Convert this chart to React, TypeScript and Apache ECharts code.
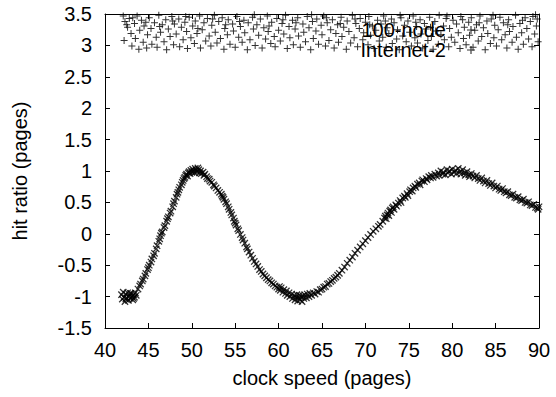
import React, { useEffect, useRef } from "react";
import * as echarts from "echarts";

const xTicks = { min: 40, max: 90, interval: 5 };
const yTicks = { min: -1.5, max: 3.5, interval: 0.5 };
const seriesNames = ["100-node", "Internet-2"];
const xLabel = "clock speed (pages)";
const yLabel = "hit ratio (pages)";

const node100: number[][] = [
  [42.1,3.47],[42.3,3.38],[42.2,3.08],[42.6,3.29],[42.8,3.43],[43.0,3.19],[43.1,2.99],[43.4,3.35],[43.5,3.11],[43.7,3.47],
  [43.9,2.94],[44.0,3.24],[44.2,3.40],[44.4,3.05],[44.5,3.31],[44.8,2.96],[44.9,3.17],[45.1,3.44],[45.3,3.27],[45.4,3.02],
  [45.7,3.36],[45.9,3.13],[46.0,2.97],[46.2,3.48],[46.4,3.21],[46.6,3.33],[46.8,3.06],[47.0,3.41],[47.1,2.93],[47.3,3.26],
  [47.5,3.14],[47.7,3.46],[47.9,3.01],[48.0,3.34],[48.2,3.18],[48.5,3.42],[48.6,2.98],[48.8,3.29],[49.0,3.09],[49.2,3.37],
  [49.4,3.22],[49.5,2.95],[49.7,3.45],[49.9,3.12],[50.1,3.31],[50.3,3.03],[50.4,3.39],[50.6,3.19],[50.9,3.47],[51.0,2.96],
  [51.2,3.25],[51.4,3.36],[51.6,3.07],[51.8,3.43],[52.0,3.15],[52.2,2.99],[52.3,3.32],[52.6,3.48],[52.7,3.21],[52.9,3.04],
  [53.1,3.38],[53.3,3.11],[53.5,3.44],[53.7,2.94],[53.8,3.27],[54.1,3.17],[54.2,3.41],[54.4,3.02],[54.7,3.34],[54.8,3.23],
  [55.0,2.97],[55.2,3.46],[55.4,3.13],[55.6,3.30],[55.8,3.05],[56.0,3.40],[56.1,3.20],[56.4,2.93],[56.5,3.36],[56.7,3.09],
  [57.0,3.45],[57.1,3.26],[57.3,3.00],[57.5,3.33],[57.7,3.16],[57.9,3.42],[58.1,2.96],[58.3,3.28],[58.5,3.10],[58.7,3.47],
  [58.8,3.22],[59.1,3.03],[59.2,3.37],[59.5,3.14],[59.6,2.98],[59.8,3.43],[60.0,3.24],[60.2,3.07],[60.4,3.35],[60.6,3.18],
  [60.8,3.48],[61.0,2.95],[61.2,3.30],[61.3,3.12],[61.6,3.40],[61.7,3.01],[61.9,3.26],[62.2,3.44],[62.3,3.15],[62.5,2.97],
  [62.8,3.34],[62.9,3.21],[63.1,3.06],[63.3,3.46],[63.5,3.28],[63.7,2.93],[63.9,3.38],[64.0,3.11],[64.3,3.23],[64.4,3.42],
  [64.6,3.02],[64.9,3.32],[65.0,3.17],[65.2,3.47],[65.4,2.99],[65.6,3.36],[65.8,3.08],[66.0,3.25],[66.2,3.41],[66.4,2.96],
  [66.6,3.19],[66.8,3.33],[66.9,3.05],[67.2,3.45],[67.3,3.14],[67.5,3.29],[67.8,2.94],[67.9,3.39],[68.1,3.22],[68.3,3.04],
  [68.5,3.48],[68.7,3.12],[68.9,3.35],[69.1,2.98],[69.3,3.27],[69.4,3.43],[69.7,3.09],[69.8,3.20],[70.0,3.37],[70.3,3.01],
  [70.4,3.46],[70.6,3.16],[70.8,3.31],[71.0,2.95],[71.2,3.24],[71.4,3.40],[71.6,3.07],[71.8,3.34],[72.0,3.13],[72.1,3.47],
  [72.4,2.97],[72.5,3.28],[72.7,3.19],[73.0,3.42],[73.1,3.03],[73.3,3.36],[73.6,3.10],[73.7,3.25],[73.9,2.93],[74.1,3.44],
  [74.3,3.15],[74.5,3.32],[74.7,3.06],[74.9,3.39],[75.1,3.21],[75.3,2.99],[75.5,3.47],[75.7,3.12],[75.9,3.30],[76.0,3.04],
  [76.3,3.41],[76.4,3.18],[76.6,2.96],[76.8,3.35],[77.0,3.26],[77.2,3.08],[77.4,3.45],[77.6,3.14],[77.8,2.94],[78.0,3.38],
  [78.1,3.23],[78.4,3.02],[78.5,3.48],[78.7,3.17],[79.0,3.31],[79.1,3.09],[79.3,3.43],[79.6,2.98],[79.7,3.27],[79.9,3.13],
  [80.1,3.40],[80.3,3.05],[80.5,3.34],[80.7,3.20],[80.9,2.95],[81.0,3.46],[81.3,3.11],[81.4,3.29],[81.6,3.01],[81.9,3.37],
  [82.0,3.16],[82.2,3.44],[82.4,2.97],[82.6,3.24],[82.8,3.33],[83.0,3.07],[83.2,3.47],[83.4,3.14],[83.6,3.28],[83.8,2.93],
  [84.0,3.39],[84.1,3.19],[84.4,3.03],[84.5,3.42],[84.8,3.12],[84.9,3.32],[85.1,2.99],[85.3,3.25],[85.5,3.45],[85.7,3.09],
  [85.9,3.36],[86.1,3.17],[86.3,2.96],[86.5,3.41],[86.6,3.22],[86.9,3.05],[87.0,3.30],[87.3,3.48],[87.4,3.13],[87.6,2.94],
  [87.8,3.35],[88.0,3.20],[88.2,3.02],[88.4,3.44],[88.6,3.27],[88.8,3.10],[89.0,3.38],[89.2,2.98],[89.3,3.46],[89.5,3.18],
  [89.7,3.31],[89.9,3.06],[89.8,3.42],
  [42.5,3.33],[43.2,3.44],[44.7,3.37],[46.3,3.30],[47.8,3.39],[49.3,3.46],[50.7,3.27],[52.4,3.42],[53.9,3.33],[55.5,3.38],
  [57.2,3.49],[58.9,3.31],[60.5,3.41],[62.0,3.36],[63.8,3.49],[65.5,3.44],[67.1,3.35],[68.8,3.42],[70.5,3.33],[72.3,3.39],
  [74.0,3.48],[75.8,3.37],[77.5,3.29],[79.4,3.47],[81.2,3.41],[83.1,3.36],[84.7,3.48],[86.4,3.33],[88.1,3.40],[89.6,3.49]
];

const internet2: number[][] = [
  [41.9,-0.97],[42.0,-1.04],[42.1,-0.93],[42.2,-1.01],[42.3,-1.08],[42.4,-0.96],[42.5,-1.02],[42.6,-0.94],[42.7,-1.06],[42.8,-0.99],
  [42.9,-1.03],[43.0,-0.95],[43.1,-1.00],[43.2,-1.05],[43.3,-0.97],[43.4,-1.01],[43.5,-0.94],[43.6,-0.98],[42.4,-1.04],[42.9,-0.95],
  [43.3,-1.03],
  [43.8,-0.88],[44.0,-0.83],[44.1,-0.80],[44.3,-0.75],[44.4,-0.72],[44.6,-0.67],[44.7,-0.63],[44.9,-0.57],[45.0,-0.54],[45.1,-0.50],
  [45.3,-0.45],[45.4,-0.40],[45.6,-0.35],[45.7,-0.31],[45.9,-0.24],[46.0,-0.19],[46.2,-0.12],[46.3,-0.08],[46.4,-0.03],[46.5,0.01],
  [46.6,0.03],[46.8,0.10],[46.9,0.13],[47.1,0.20],[47.2,0.24],[47.3,0.27],[47.5,0.33],[47.6,0.36],[47.8,0.43],[47.9,0.48],
  [48.0,0.52],[48.2,0.58],[48.3,0.63],[48.4,0.66],[48.5,0.70],[48.6,0.74],[48.8,0.78],[48.9,0.82],[49.0,0.85],[49.1,0.88],
  [49.2,0.90],[49.3,0.93],[49.4,0.95],[49.5,0.92],[49.6,0.97],[49.7,0.99],[49.8,0.96],[49.9,1.01],[50.0,0.98],[50.1,1.03],
  [50.2,1.00],[50.3,0.97],[50.4,1.04],[50.5,1.01],[50.6,0.99],[50.7,1.05],[50.8,1.02],[50.9,0.97],[51.0,1.00],[51.1,0.96],
  [51.3,0.98],[51.4,0.93],[51.5,0.95],[51.7,0.91],[51.8,0.88],[52.0,0.87],[52.1,0.84],[52.3,0.82],[52.5,0.78],[52.6,0.76],
  [52.8,0.73],[53.0,0.69],[53.2,0.66],[53.4,0.63],[53.5,0.60],[53.6,0.58],[53.7,0.55],[53.9,0.51],[54.0,0.48],[54.2,0.43],
  [54.3,0.39],[54.5,0.34],[54.6,0.30],[54.8,0.25],[54.9,0.20],[55.0,0.17],[55.1,0.14],[55.3,0.08],[55.4,0.05],[55.6,-0.01],
  [55.8,-0.06],[55.9,-0.10],[56.1,-0.15],[56.3,-0.21],[56.4,-0.24],[56.6,-0.29],[56.8,-0.34],[57.0,-0.39],[57.2,-0.44],[57.4,-0.48],
  [57.6,-0.52],[57.8,-0.57],[58.0,-0.60],[58.2,-0.64],[58.4,-0.67],[58.6,-0.70],[58.8,-0.73],[59.0,-0.75],[59.2,-0.78],[59.4,-0.80],
  [59.6,-0.83],[59.8,-0.85],[60.0,-0.88],[60.1,-0.84],[60.2,-0.90],[60.3,-0.86],[60.5,-0.93],[60.6,-0.89],[60.8,-0.95],[60.9,-0.91],
  [61.0,-0.98],[61.2,-0.94],[61.3,-1.00],[61.5,-0.96],[61.6,-1.03],[61.8,-0.98],[61.9,-1.05],[62.0,-1.01],[62.1,-0.97],[62.2,-1.07],
  [62.3,-1.02],[62.4,-0.98],[62.5,-1.05],[62.6,-1.00],[62.7,-1.08],[62.8,-0.99],[62.9,-1.03],[63.0,-0.97],[63.2,-1.02],[63.3,-0.96],
  [63.5,-1.00],[63.6,-0.95],[63.8,-0.98],[64.0,-0.94],[64.2,-0.96],[64.4,-0.92],[64.6,-0.93],[64.8,-0.89],[65.0,-0.88],[65.2,-0.85],
  [65.4,-0.84],[65.6,-0.80],[65.8,-0.79],[66.0,-0.76],[66.2,-0.74],[66.4,-0.71],[66.6,-0.69],[66.8,-0.66],[67.0,-0.63],[67.3,-0.58],
  [67.6,-0.53],[67.9,-0.47],[68.2,-0.42],[68.5,-0.37],[68.8,-0.31],[69.1,-0.26],[69.4,-0.21],[69.7,-0.16],[70.0,-0.11],[70.3,-0.06],
  [70.6,-0.01],[70.9,0.04],[71.2,0.08],[71.5,0.12],[71.7,0.15],[72.0,0.20],[72.2,0.25],[72.3,0.28],[72.4,0.24],[72.5,0.30],
  [72.6,0.33],[72.7,0.29],[72.8,0.36],[72.9,0.38],[73.0,0.34],[73.1,0.41],[73.2,0.43],[73.3,0.39],[73.5,0.46],[73.6,0.44],
  [73.8,0.49],[74.0,0.53],[74.1,0.50],[74.3,0.57],[74.5,0.60],[74.6,0.58],[74.8,0.64],[74.9,0.61],[75.1,0.67],[75.2,0.70],
  [75.4,0.68],[75.5,0.73],[75.7,0.76],[75.8,0.74],[76.0,0.79],[76.2,0.81],[76.3,0.78],[76.5,0.84],[76.6,0.86],[76.8,0.83],
  [77.0,0.88],[77.1,0.86],[77.3,0.91],[77.5,0.89],[77.6,0.93],[77.8,0.90],[78.0,0.95],[78.2,0.92],[78.4,0.97],[78.5,0.93],
  [78.7,1.00],[78.9,0.95],[79.0,0.98],[79.2,0.94],[79.4,1.02],[79.5,0.97],[79.7,1.00],[79.9,0.95],[80.0,1.03],[80.2,0.98],
  [80.4,1.01],[80.5,0.96],[80.7,1.04],[80.9,0.99],[81.0,0.95],[81.2,1.02],[81.4,0.97],[81.5,0.93],[81.7,0.99],[81.9,0.94],
  [82.0,0.91],[82.2,0.96],[82.4,0.92],[82.6,0.89],[82.8,0.93],[83.0,0.88],[83.2,0.85],[83.4,0.89],[83.6,0.84],[83.8,0.81],
  [84.0,0.85],[84.2,0.80],[84.4,0.77],[84.6,0.81],[84.8,0.76],[85.0,0.73],[85.2,0.76],[85.4,0.71],[85.6,0.69],[85.8,0.72],
  [86.0,0.67],[86.2,0.65],[86.4,0.67],[86.6,0.62],[86.8,0.61],[87.0,0.63],[87.2,0.58],[87.4,0.57],[87.6,0.59],[87.8,0.54],
  [88.0,0.53],[88.2,0.55],[88.4,0.50],[88.6,0.49],[88.8,0.51],[89.0,0.46],[89.2,0.45],[89.4,0.47],[89.6,0.42],[89.8,0.41],
  [90.0,0.43],[89.9,0.39]
];

const PLUS = "path://M3,0h1v3h3v1h-3v3h-1v-3h-3v-1h3z";
const FONT = "'Liberation Sans', Arial, sans-serif";

export default function App() {
  const ref = useRef<HTMLDivElement>(null);
  useEffect(() => {
    if (!ref.current) return;
    const chart = echarts.init(ref.current, null, { renderer: "svg" });
    const axisLine = { show: true, onZero: false, lineStyle: { color: "#000", width: 1 } };
    const tick = { show: true, inside: true, length: 5, lineStyle: { color: "#000", width: 1 } };
    chart.setOption({
      animation: false,
      backgroundColor: "#fff",
      textStyle: { fontFamily: FONT },
      grid: { left: 105, right: 17, top: 14, bottom: 69, containLabel: false },
      legend: {
        orient: "vertical",
        right: 76,
        top: 15,
        align: "right",
        itemGap: 0,
        itemWidth: 40,
        itemHeight: 8,
        textStyle: { fontSize: 20, color: "#000", fontFamily: FONT, lineHeight: 18, padding: [0, 0, 0, 0] },
        data: seriesNames,
      },
      xAxis: [
        {
          type: "value",
          min: xTicks.min,
          max: xTicks.max,
          interval: xTicks.interval,
          name: xLabel,
          nameLocation: "middle",
          nameGap: 40,
          nameTextStyle: { fontSize: 20, color: "#000", fontFamily: FONT },
          axisLine,
          axisTick: tick,
          axisLabel: { fontSize: 20, color: "#000", margin: 12, fontFamily: FONT },
          splitLine: { show: false },
        },
        {
          type: "value",
          position: "top",
          min: xTicks.min,
          max: xTicks.max,
          interval: xTicks.interval,
          axisLine,
          axisTick: tick,
          axisLabel: { show: false },
          splitLine: { show: false },
        },
      ],
      yAxis: [
        {
          type: "value",
          min: yTicks.min,
          max: yTicks.max,
          interval: yTicks.interval,
          name: yLabel,
          nameLocation: "middle",
          nameGap: 75,
          nameTextStyle: { fontSize: 20, color: "#000", fontFamily: FONT },
          axisLine,
          axisTick: tick,
          axisLabel: { fontSize: 20, color: "#000", margin: 13, fontFamily: FONT },
          splitLine: { show: false },
        },
        {
          type: "value",
          position: "right",
          min: yTicks.min,
          max: yTicks.max,
          interval: yTicks.interval,
          axisLine,
          axisTick: tick,
          axisLabel: { show: false },
          splitLine: { show: false },
        },
      ],
      series: [
        {
          name: seriesNames[0],
          type: "scatter",
          data: node100,
          symbol: PLUS,
          symbolSize: 7,
          itemStyle: { color: "#000" },
          clip: true,
        },
        {
          name: seriesNames[1],
          type: "scatter",
          data: internet2,
          symbol: PLUS,
          symbolSize: 9,
          symbolRotate: 45,
          itemStyle: { color: "#000" },
          clip: true,
        },
      ],
    });
    return () => chart.dispose();
  }, []);
  return <div ref={ref} style={{ width: 556, height: 397, position: "absolute", left: 0, top: 0 }} />;
}
